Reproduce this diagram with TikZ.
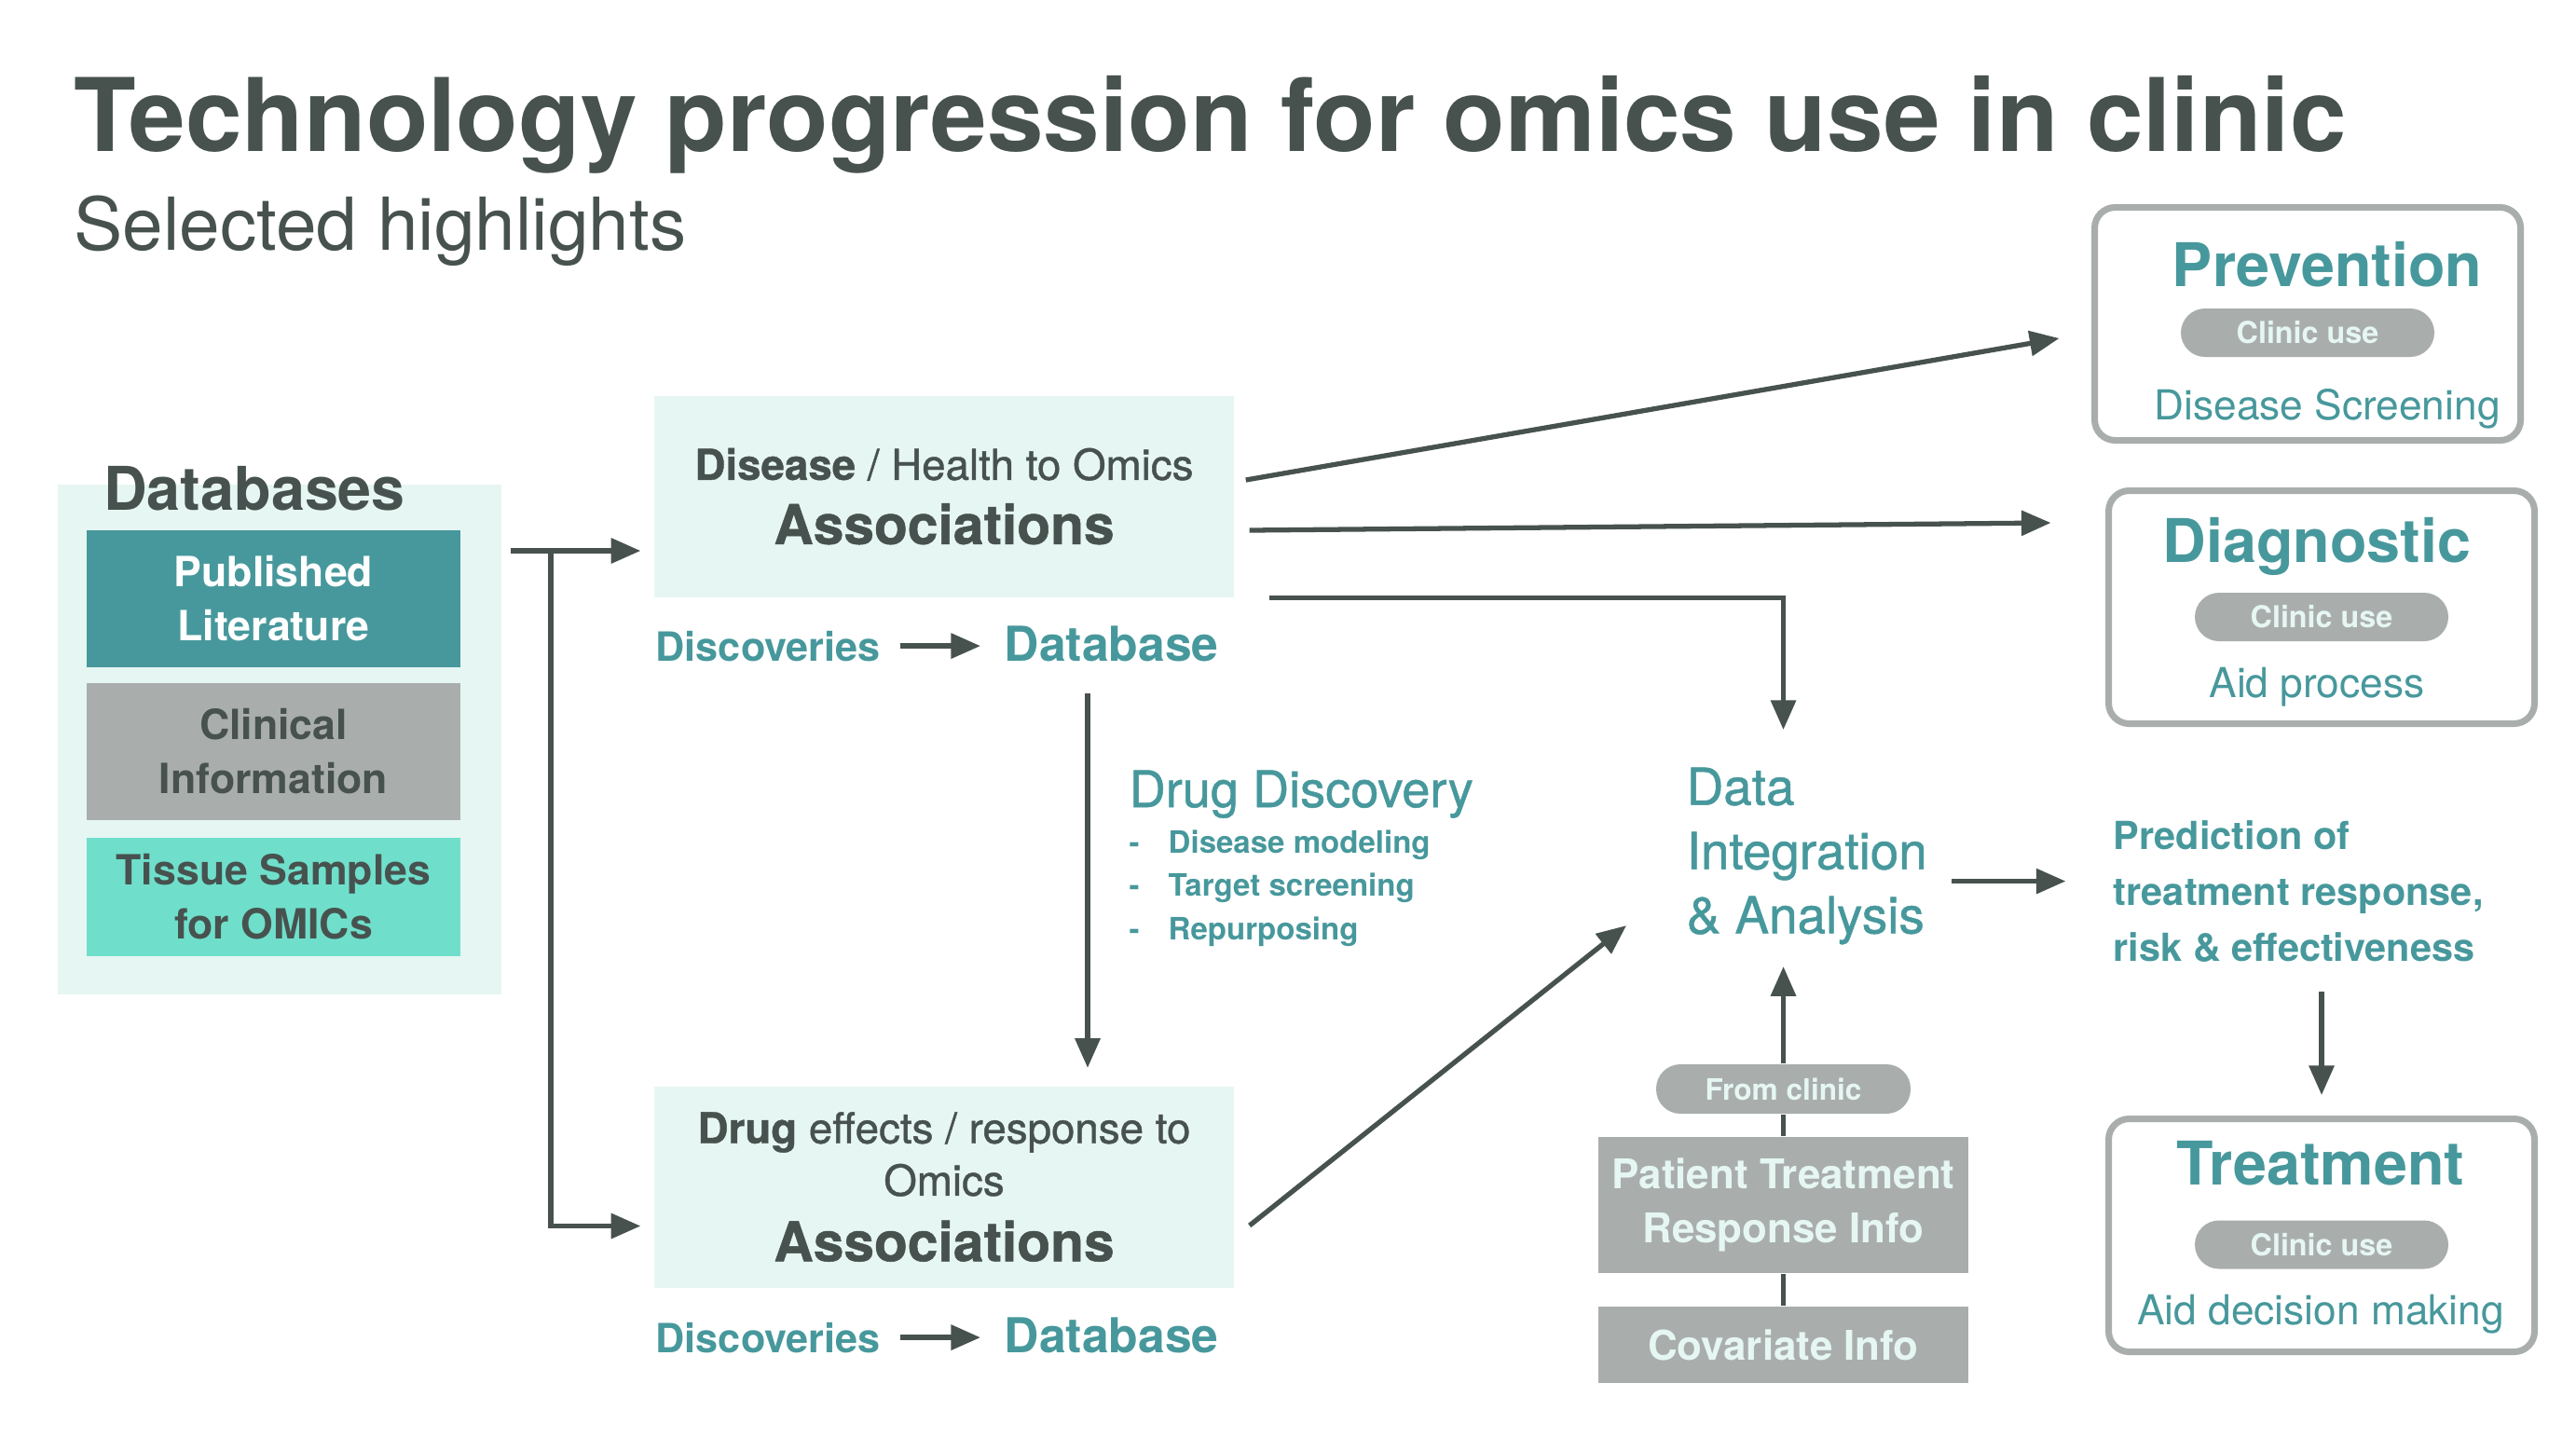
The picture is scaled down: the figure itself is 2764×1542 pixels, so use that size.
\documentclass[tikz,border=0pt]{standalone}
\usepackage{fontspec}
\setmainfont{TeX Gyre Heros}
\newfontfamily\medfont[FakeBold=0.9]{TeX Gyre Heros}
\usepackage{tikz}
\usetikzlibrary{calc,arrows.meta,positioning}
\definecolor{darkc}{HTML}{47524F}
\definecolor{tealc}{HTML}{47989C}
\definecolor{mintbg}{HTML}{E6F6F3}
\definecolor{greyc}{HTML}{A9AEAD}
\definecolor{turqc}{HTML}{6FDFCB}
\newcommand{\fsz}[2]{\fontsize{#1}{#2}\selectfont}
\tikzset{
  ar/.style={-{Triangle[length=9pt,width=7.5pt]},line width=1.5pt,darkc},
  dbbox/.style={minimum width=40.1mm,inner sep=0pt,align=center,font=\fsz{12.7}{16.5}\bfseries},
  assoc/.style={fill=mintbg,minimum width=62.2mm,minimum height=21.6mm,inner sep=0pt,align=center,text=darkc,font=\medfont\fsz{13}{16}},
  usebox/.style={draw=greyc,line width=2pt,rounded corners=2.2mm,minimum width=45.7mm,minimum height=25mm},
  pill/.style={fill=greyc,rounded corners=2.6mm,minimum width=27.2mm,minimum height=5.2mm,inner sep=0pt,text=mintbg,font=\fsz{9.2}{11}\bfseries},
  infobox/.style={fill=greyc,minimum width=39.7mm,inner sep=0pt,align=center,text=mintbg,font=\fsz{12.5}{16.5}\bfseries},
  tl/.style={text=tealc,inner sep=0pt}
}

\begin{document}
\begin{tikzpicture}[x=0.1mm,y=-0.1mm]
\useasboundingbox[fill=white] (0,0) rectangle (2764,1542);
\node[anchor=base west,inner sep=0pt,text=darkc,font=\fsz{31}{36}\bfseries] (ttl) at (79,162) {Technology progression for omics use in clinic};
\node[anchor=base west,inner sep=0pt,text=darkc,font=\fsz{22.3}{26}] (subttl) at (79,268) {Selected highlights};

\node[fill=mintbg,minimum width=47.6mm,minimum height=54.7mm,inner sep=0pt] (dbbg) at (300,793.5) {};
\node[anchor=base,inner sep=0pt,text=darkc,font=\fsz{18.4}{22}\bfseries] (dbt) at (273,547) {Databases};
\node[dbbox,fill=tealc,text=white,minimum height=14.7mm] (pub) at (293.5,642.5) {Published\\Literature};
\node[dbbox,fill=greyc,text=darkc,minimum height=14.7mm] (clin) at (293.5,806.5) {Clinical\\Information};
\node[dbbox,fill=turqc,text=darkc,minimum height=12.7mm] (tis) at (293.5,962.5) {Tissue Samples\\for OMICs};

\node[assoc] (dis) at (1013,532.5) {{\bfseries Disease} / Health to Omics\\[3.6pt]{\fsz{16.7}{20}\bfseries Associations}};
\node[assoc] (drug) at (1013,1273.5) {{\bfseries Drug} effects / response to\\Omics\\[4pt]{\fsz{16.7}{20}\bfseries Associations}};

\node[tl,anchor=base west,font=\fsz{12.3}{15}\bfseries] (disc1) at (703,709) {Discoveries};
\node[tl,anchor=base west,font=\fsz{14.7}{18}\bfseries] (dbase1) at (1077,709) {Database};
\node[tl,anchor=base west,font=\fsz{12.3}{15}\bfseries] (disc2) at (703,1451) {Discoveries};
\node[tl,anchor=base west,font=\fsz{14.7}{18}\bfseries] (dbase2) at (1077,1451) {Database};

\node[tl,anchor=base west,font=\medfont\fsz{15.4}{18}] (ddt) at (1211,866) {Drug Discovery};
\foreach \n/\yy/\tx in {b1/915/Disease modeling,b2/961/Target screening,b3/1008/Repurposing}
  \node[tl,anchor=base west,font=\fsz{9.4}{11}\bfseries] (\n) at (1211,\yy) {\makebox[4.2mm][l]{-}\tx};

\node[tl,anchor=north west,align=left,font=\medfont\fsz{15.6}{19.6}] (integ) at (1809,823) {Data\\Integration\\\&~Analysis};
\node[tl,anchor=north west,align=left,font=\fsz{11.8}{17}\bfseries] (pred) at (2267,880) {Prediction of\\treatment response,\\risk \& effectiveness};

\node[pill,minimum width=27.3mm,minimum height=5.3mm,font=\fsz{9}{11}\bfseries] (fromc) at (1913.5,1168.5) {From clinic};
\node[infobox,minimum height=14.6mm] (pat) at (1913.5,1293) {Patient Treatment\\Response Info};
\node[infobox,minimum height=8.2mm] (cov) at (1913.5,1443) {Covariate Info};

\foreach \nm/\cx/\cy/\tx/\ty/\py/\sy/\ti/\su in {prev/2476/347.5/2497/307/357/450/Prevention/Disease Screening,diag/2491/651.5/2486/603/662/748/Diagnostic/Aid process,treat/2491/1325.5/2490/1271/1335.5/1421/Treatment/Aid decision making}{
  \node[usebox] (\nm) at (\cx,\cy) {};
  \node[tl,anchor=base,font=\fsz{18.4}{22}\bfseries] (\nm-t) at (\tx,\ty) {\ti};
  \node[pill] (\nm-p) at (\cx,\py) {Clinic use};
  \node[tl,anchor=base,font=\fsz{12.6}{15}] (\nm-s) at (\tx,\sy) {\su};
}

\coordinate (fork) at (591,591);
\draw[ar,shorten <=0.9mm,shorten >=1.4mm] (dbbg.east |- fork) -- (fork) -- (fork -| dis.west);
\draw[ar,shorten >=1.4mm] (fork) |- ([shift={(0,42)}]drug.west);
\draw[ar,shorten <=2.1mm,shorten >=2.5mm] (disc1.east) -- (disc1.east -| dbase1.west);
\draw[ar,shorten <=2.1mm,shorten >=2.5mm] (disc2.east) -- (disc2.east -| dbase2.west);
\coordinate (dd) at (1167,744);
\draw[ar,shorten >=1.9mm] (dd) -- (dd |- drug.north);
\draw[ar] ([shift={(12,-17.5)}]dis.east) -- ([shift={(-34.5,15.5)}]prev.west);
\draw[ar] ([shift={(16,36.5)}]dis.east) -- ([shift={(-58.5,-90.5)}]diag.west);
\draw[ar,shorten <=3.7mm,shorten >=4mm] (dis.south east) -| (fromc.north |- integ.north);
\draw[ar] ([shift={(16,41.5)}]drug.east) -- ([shift={(-64,-21)}]integ.south west);
\draw[line width=1.5pt,darkc] (cov.north) -- (pat.south);
\draw[line width=1.5pt,darkc] (pat.north) -- (fromc.south);
\draw[ar,shorten >=2.3mm] (fromc.north) -- (fromc.north |- integ.south);
\draw[ar] ([shift={(26,27)}]integ.east) -- ++(122,0);
\draw[ar,shorten <=3.1mm,shorten >=2.2mm] (pred.south -| treat.north) -- (treat.north);
\end{tikzpicture}
\end{document}
